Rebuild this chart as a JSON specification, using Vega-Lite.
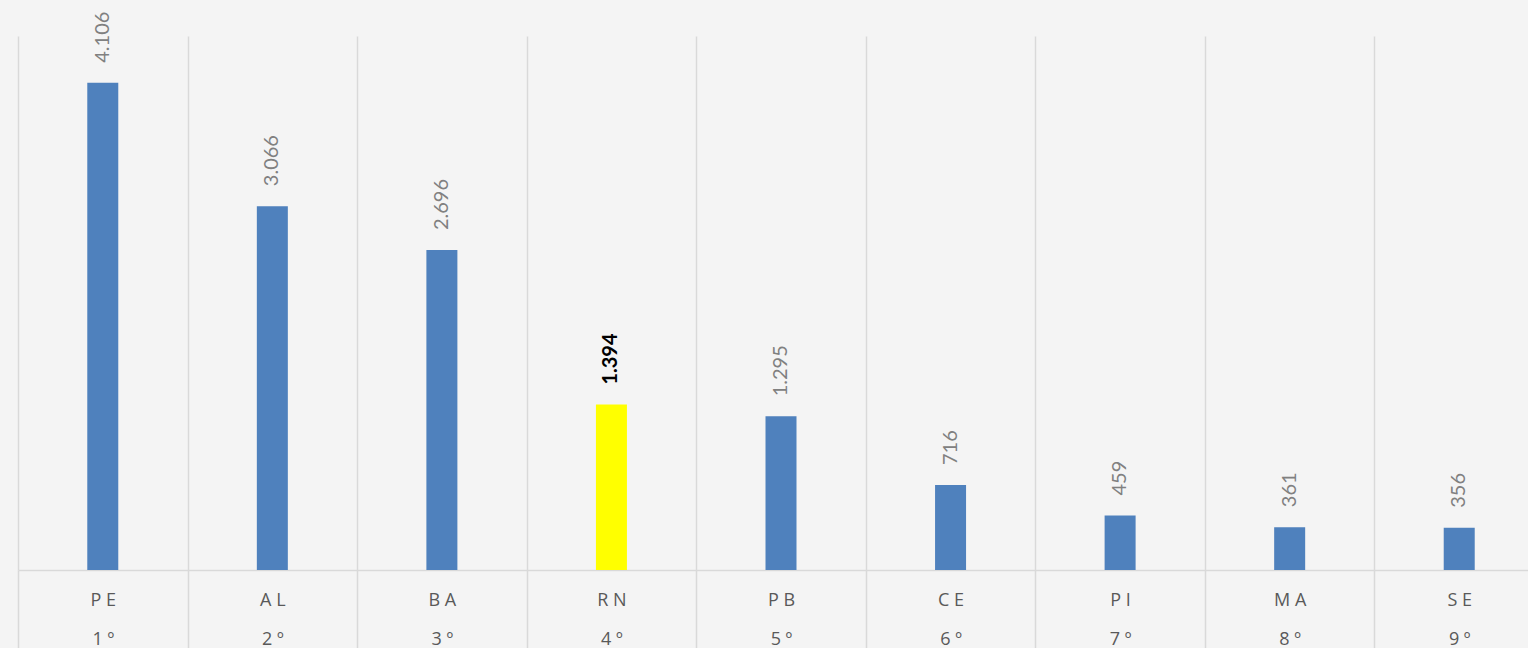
{
  "$schema": "https://vega.github.io/schema/vega-lite/v6.json",
  "width": 1526,
  "height": 534,
  "autosize": {"type": "none"},
  "padding": {"left": 18, "top": 36, "right": 0, "bottom": 78},
  "background": "#f4f4f4",
  "config": {
    "view": {"stroke": null},
    "locale": {"number": {"decimal": ",", "thousands": ".", "grouping": [3], "currency": ["R$", ""]}}
  },
  "data": {
    "values": [
      {"uf": "PE", "valor": 4106},
      {"uf": "AL", "valor": 3066},
      {"uf": "BA", "valor": 2696},
      {"uf": "RN", "valor": 1394},
      {"uf": "PB", "valor": 1295},
      {"uf": "CE", "valor": 716},
      {"uf": "PI", "valor": 459},
      {"uf": "MA", "valor": 361},
      {"uf": "SE", "valor": 356}
    ]
  },
  "encoding": {
    "x": {
      "field": "uf",
      "type": "nominal",
      "sort": null,
      "scale": {"paddingInner": 0, "paddingOuter": 0},
      "axis": {
        "title": null,
        "tickBand": "extent",
        "grid": true,
        "gridColor": "#d9d9d9",
        "gridWidth": 1.5,
        "ticks": true,
        "tickColor": "#d9d9d9",
        "tickWidth": 1.5,
        "tickSize": 78,
        "domain": true,
        "domainColor": "#d9d9d9",
        "domainWidth": 1.5,
        "labelAngle": 0,
        "labelFont": "Open Sans",
        "labelFontSize": 18,
        "labelColor": "#595959",
        "labelBaseline": "top",
        "labelPadding": -57,
        "labelLineHeight": 39,
        "labelOverlap": false,
        "labelBound": false,
        "labelExpr": "isValid(datum.value) && indexof(domain('x'), datum.value) >= 0 ? [join(split(datum.value, ''), ' '), (indexof(domain('x'), datum.value) + 1) + ' º'] : ''"
      }
    },
    "y": {
      "field": "valor",
      "type": "quantitative",
      "scale": {"domain": [0, 4500]},
      "axis": null
    }
  },
  "layer": [
    {
      "mark": {"type": "bar", "width": 31},
      "encoding": {
        "color": {"condition": {"test": "datum.uf === 'RN'", "value": "#ffff00"}, "value": "#4f81bd"}
      }
    },
    {
      "mark": {"type": "text", "angle": 270, "align": "left", "baseline": "middle", "dx": 20, "font": "Lato", "fontSize": 20, "color": "#808080"},
      "encoding": {
        "text": {"field": "valor", "type": "quantitative", "format": ",d"},
        "opacity": {"condition": {"test": "datum.uf === 'RN'", "value": 0}, "value": 1}
      }
    },
    {
      "mark": {"type": "text", "angle": 270, "align": "left", "baseline": "middle", "dx": 20, "font": "Lato", "fontSize": 20, "fontWeight": "bold", "color": "#000000"},
      "encoding": {
        "text": {"field": "valor", "type": "quantitative", "format": ",d"},
        "opacity": {"condition": {"test": "datum.uf === 'RN'", "value": 1}, "value": 0}
      }
    }
  ]
}
